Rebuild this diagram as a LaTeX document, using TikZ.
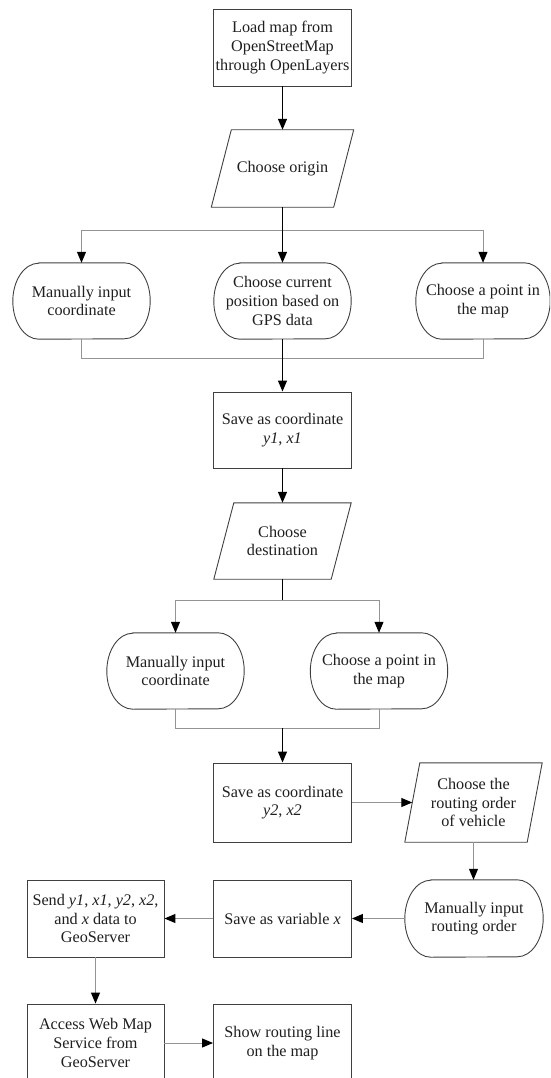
\documentclass[tikz,border=0pt]{standalone}
\usepackage{fontspec}
\setmainfont{Liberation Serif}
\newfontfamily\tnr{Liberation Serif}
\usetikzlibrary{arrows.meta}
\begin{document}
\begin{tikzpicture}[x=1pt,y=1pt,
  every node/.style={font=\tnr\fontsize{16.2}{18.6}\selectfont, text=black!88, align=center, inner sep=0pt},
  box/.style={draw=black!75, line width=0.9pt, minimum width=138pt, minimum height=77pt},
  ghost/.style={minimum width=137pt, minimum height=77pt},
  outline/.style={draw=black!75, line width=0.9pt},
  tip/.style={-{Triangle[length=11pt,width=9pt,color=black]}},
  gl/.style={draw=black!42, line width=1pt},
  bl/.style={draw=black, line width=1.3pt}
]
\useasboundingbox (0,0) rectangle (550,-1078);
\clip (0,0) rectangle (550,-1078);

% nodes
\node[box] (load) at (282.5,-47.5) {Load map from\\OpenStreetMap\\through OpenLayers};
\node[ghost, minimum width=142pt] (p1) at (282.5,-168.5) {Choose origin};
\node[ghost, minimum height=76pt] (t1l) at (81.5,-301) {Manually input\\coordinate};
\node[ghost, minimum height=76pt] (t1m) at (282.5,-301) {Choose current\\position based on\\GPS data};
\node[ghost, minimum height=76pt, minimum width=134pt] (t1r) at (483,-301) {Choose a point in\\the map};
\node[box, minimum height=76pt] (s1) at (282.5,-430) {Save as coordinate\\\textit{y1}, \textit{x1}};
\node[ghost, minimum height=76pt] (p2) at (282.5,-541) {Choose\\destination};
\node[ghost, minimum height=76pt] (t2l) at (175.5,-671) {Manually input\\coordinate};
\node[ghost, minimum height=76pt] (t2r) at (379,-671) {Choose a point in\\the map};
\node[box, minimum height=79pt] (s2) at (282.5,-802.5) {Save as coordinate\\\textit{y2}, \textit{x2}};
\node[ghost, minimum height=79pt] (p3) at (473.5,-802.5) {Choose the\\routing order\\of vehicle};
\node[ghost, minimum width=138pt] (t3) at (474,-918.5) {Manually input\\routing order};
\node[box] (sv) at (282.5,-918.5) {Save as variable \textit{x}};
\node[box, minimum width=137pt] (send) at (95.5,-918.5) {Send \textit{y1}, \textit{x1}, \textit{y2}, \textit{x2},\\and \textit{x} data to\\GeoServer};
\node[box, minimum width=137pt, minimum height=78pt] (access) at (95.5,-1043) {Access Web Map\\Service from\\GeoServer};
\node[box, minimum height=78pt] (show) at (282.5,-1043) {Show routing line\\on the map};

% parallelogram outlines
\foreach \n/\s in {p1/20,p2/20,p3/15}
  \draw[outline] (\n.south west) -- ([xshift=\s pt]\n.north west) -- (\n.north east)
    -- ([xshift=-\s pt]\n.south east) -- cycle;

% terminal outlines
\foreach \n/\h in {t1l/38,t1m/38,t1r/38,t2l/38,t2r/38,t3/38.5}
  \draw[outline] ([xshift=26pt]\n.north west) -- ([xshift=-26pt]\n.north east)
    arc[start angle=90,end angle=-90,x radius=26pt,y radius=\h pt]
    -- ([xshift=26pt]\n.south west)
    arc[start angle=270,end angle=90,x radius=26pt,y radius=\h pt] -- cycle;

% connectors
\coordinate (j1) at (282.5,-230);
\coordinate (m1) at (282.5,-358);
\coordinate (j2) at (282.5,-600);
\coordinate (m2) at (282.5,-728);

\draw[bl,tip] (load.south) -- (p1.north);
\draw[gl] (j1 -| t1l) -- (j1 -| t1r);
\draw[bl] (p1.south) -- (j1);
\draw[gl,tip] (j1 -| t1l) -- (t1l.north);
\draw[gl,tip] (j1 -| t1r) -- (t1r.north);
\draw[bl,tip] (j1) -- (t1m.north);
\draw[gl] (t1l.south) -- (m1 -| t1l) -- (m1 -| t1r) -- (t1r.south);
\draw[bl] (t1m.south) -- (m1);
\draw[bl,tip] (m1) -- (s1.north);

\draw[bl,tip] (s1.south) -- (p2.north);
\draw[gl] (j2 -| t2l) -- (j2 -| t2r);
\draw[bl] (p2.south) -- (j2);
\draw[gl,tip] (j2 -| t2l) -- (t2l.north);
\draw[gl,tip] (j2 -| t2r) -- (t2r.north);
\draw[gl] (t2l.south) -- (m2 -| t2l) -- (m2 -| t2r) -- (t2r.south);
\draw[bl,tip] (m2) -- (s2.north);

\draw[gl,tip] (s2.east) -- ([xshift=7.5pt]p3.west);
\draw[gl,tip] (p3.south) -- (p3.south |- t3.north);
\draw[gl,tip] (t3.west) -- (sv.east);
\draw[gl,tip] (sv.west) -- (send.east);
\draw[gl,tip] (send.south) -- (access.north);
\draw[gl,tip] (access.east) -- (show.west);
\end{tikzpicture}
\end{document}
